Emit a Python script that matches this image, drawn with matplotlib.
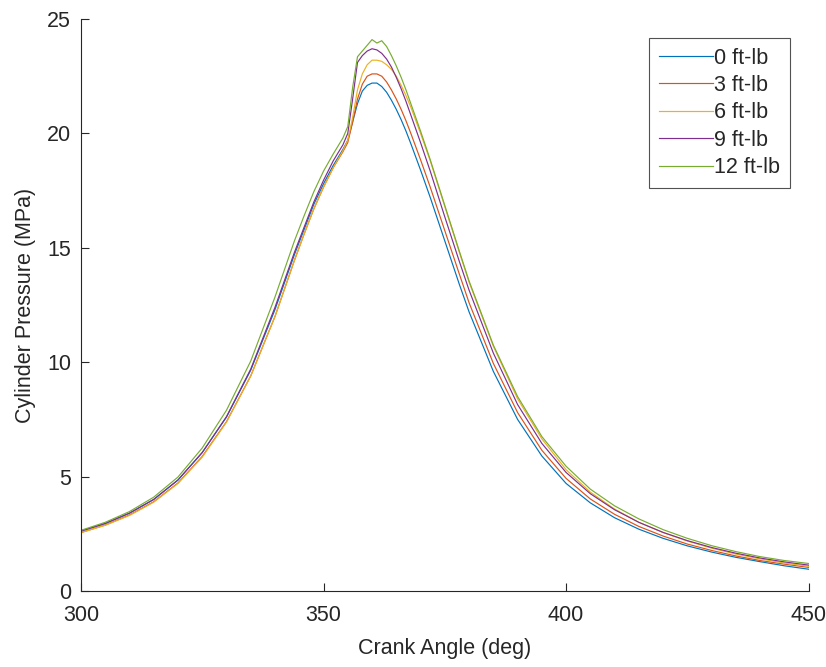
import numpy as np
import matplotlib
matplotlib.use("Agg")
import matplotlib.pyplot as plt

plt.rcParams['font.family'] = ['Liberation Sans', 'DejaVu Sans']

# crank angle (deg)
angle = [300, 305, 310, 315, 320, 325, 330, 335, 340, 344, 346, 348, 350, 352, 354, 355,
         356, 357, 358, 359, 360, 361, 362, 363, 364, 365, 366, 367, 368, 370, 372, 375,
         378, 380, 385, 390, 395, 400, 405, 410, 415, 420, 425, 430, 435, 440, 445, 450]

# cylinder pressure (MPa) per load
p_0 = [2.62, 2.95, 3.4, 4.0, 4.85, 6.05, 7.6, 9.65, 12.3, 14.7, 15.8, 16.9, 17.8, 18.6, 19.3, 19.7,
       20.5, 21.3, 21.85, 22.1, 22.2, 22.2, 22.05, 21.8, 21.45, 21.05, 20.6, 20.1, 19.55, 18.4, 17.2, 15.3,
       13.4, 12.2, 9.6, 7.5, 5.9, 4.7, 3.85, 3.2, 2.7, 2.3, 1.97, 1.7, 1.47, 1.28, 1.1, 0.95]
p_3 = [2.55, 2.88, 3.32, 3.9, 4.72, 5.88, 7.4, 9.4, 12.0, 14.45, 15.6, 16.7, 17.65, 18.5, 19.2, 19.6,
       20.5, 21.5, 22.15, 22.5, 22.6, 22.6, 22.5, 22.25, 21.9, 21.5, 21.05, 20.55, 20.0, 18.85, 17.65, 15.75,
       13.85, 12.6, 9.95, 7.8, 6.15, 4.92, 4.02, 3.35, 2.82, 2.4, 2.05, 1.77, 1.53, 1.33, 1.17, 1.03]
p_6 = [2.55, 2.87, 3.3, 3.88, 4.7, 5.85, 7.38, 9.4, 12.0, 14.45, 15.6, 16.7, 17.65, 18.5, 19.25, 19.7,
       20.7, 21.9, 22.6, 23.0, 23.2, 23.2, 23.15, 23.0, 22.8, 22.5, 22.1, 21.65, 21.15, 20.0, 18.8, 16.8,
       14.8, 13.5, 10.7, 8.4, 6.65, 5.3, 4.32, 3.58, 3.0, 2.55, 2.18, 1.87, 1.61, 1.4, 1.22, 1.08]
p_9 = [2.62, 2.95, 3.4, 4.0, 4.85, 6.05, 7.62, 9.7, 12.4, 14.8, 15.9, 17.0, 17.95, 18.8, 19.5, 20.0,
       21.5, 23.1, 23.4, 23.6, 23.7, 23.65, 23.5, 23.25, 22.9, 22.45, 21.95, 21.4, 20.8, 19.6, 18.35, 16.35,
       14.4, 13.15, 10.4, 8.15, 6.45, 5.18, 4.25, 3.55, 3.0, 2.56, 2.2, 1.9, 1.65, 1.44, 1.27, 1.13]
p_12 = [2.65, 3.0, 3.47, 4.1, 4.98, 6.25, 7.9, 10.05, 12.85, 15.3, 16.4, 17.45, 18.35, 19.1, 19.8, 20.3,
        22.0, 23.35, 23.6, 23.85, 24.1, 23.95, 24.05, 23.8, 23.4, 22.95, 22.45, 21.9, 21.3, 20.1, 18.85, 16.85,
        14.85, 13.55, 10.75, 8.5, 6.75, 5.45, 4.45, 3.72, 3.15, 2.68, 2.3, 1.98, 1.72, 1.5, 1.33, 1.2]

labels = ['0 ft-lb', '3 ft-lb', '6 ft-lb', '9 ft-lb', '12 ft-lb']
series = [p_0, p_3, p_6, p_9, p_12]
colors = [(0, 0.447, 0.741), (0.85, 0.325, 0.098), (0.929, 0.694, 0.125),
          (0.494, 0.184, 0.556), (0.466, 0.674, 0.188)]

fig = plt.figure(figsize=(8.26, 6.67), dpi=100)
ax = fig.add_axes([0.098, 0.114, 0.881, 0.8575])

for p, lab, c in zip(series, labels, colors):
    ax.plot(angle, p, color=c, lw=0.85, label=lab)

ax.set_xlim(300, 450)
ax.set_ylim(0, 25)
ax.set_xticks([300, 350, 400, 450])
ax.set_yticks([0, 5, 10, 15, 20, 25])

grey = '#262626'
for side in ['top', 'right']:
    ax.spines[side].set_visible(False)
for side in ['left', 'bottom']:
    ax.spines[side].set_color(grey)
    ax.spines[side].set_linewidth(0.8)
ax.tick_params(direction='in', length=6, width=0.8, colors=grey, labelsize=15.5)
ax.tick_params(axis='x', pad=10)
ax.tick_params(axis='y', pad=7)

ax.set_xlabel('Crank Angle (deg)', fontsize=15.5, color=grey, labelpad=9)
ax.set_ylabel('Cylinder Pressure (MPa)', fontsize=15.5, color=grey, labelpad=8)

leg = ax.legend(loc='upper right', bbox_to_anchor=(0.974, 0.967), fontsize=15.5, frameon=True,
                fancybox=False, handlelength=2.5, handletextpad=0.05, labelspacing=0.3,
                borderpad=0.45, borderaxespad=0)
leg.get_frame().set_edgecolor(grey)
leg.get_frame().set_linewidth(0.8)
for t in leg.get_texts():
    t.set_color(grey)

fig.savefig('out.png', dpi=100, facecolor='white')
